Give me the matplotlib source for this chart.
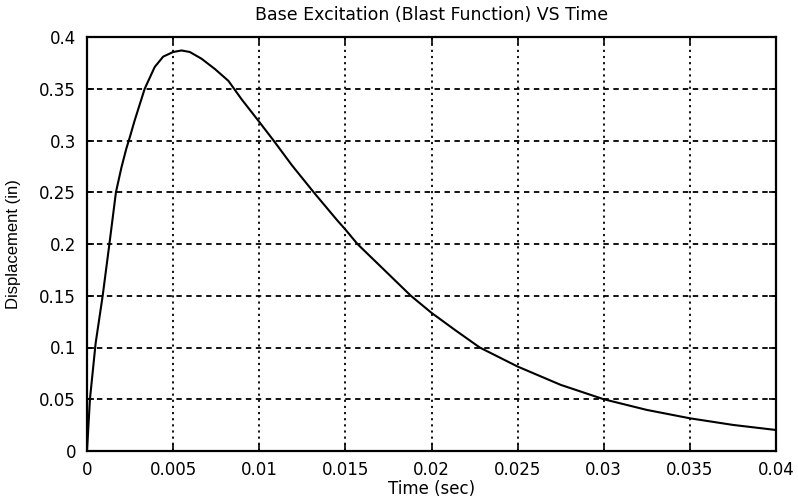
import matplotlib
matplotlib.use("Agg")
import matplotlib.pyplot as plt

# Data
time_s = [0, 0.00017, 0.0005, 0.00091, 0.0013, 0.00168, 0.002, 0.00228,
          0.0025, 0.00276, 0.00335, 0.00393, 0.00442, 0.005, 0.00549, 0.00597,
          0.00665, 0.00743, 0.00821, 0.00899, 0.01, 0.01083, 0.0119,
          0.01316, 0.01452, 0.015, 0.0157, 0.0175, 0.0188, 0.02, 0.0214,
          0.0228, 0.025, 0.0275, 0.03, 0.0325, 0.035, 0.0375, 0.04]
disp_in = [0, 0.05, 0.104, 0.15, 0.2, 0.25, 0.274, 0.292,
           0.304, 0.319, 0.35, 0.371, 0.381, 0.3855, 0.387, 0.3855,
           0.379, 0.369, 0.3576, 0.3395, 0.318, 0.3, 0.276,
           0.25, 0.223, 0.214, 0.2, 0.171, 0.15, 0.1335, 0.1165,
           0.1, 0.0816, 0.0639, 0.05, 0.0397, 0.0316, 0.0252, 0.0203]

xticks = [0, 0.005, 0.01, 0.015, 0.02, 0.025, 0.03, 0.035, 0.04]
xticklabels = ["0", "0.005", "0.01", "0.015", "0.02", "0.025", "0.03", "0.035", "0.04"]
yticks = [0, 0.05, 0.1, 0.15, 0.2, 0.25, 0.3, 0.35, 0.4]
yticklabels = ["0", "0.05", "0.1", "0.15", "0.2", "0.25", "0.3", "0.35", "0.4"]

title = "Base Excitation (Blast Function) VS Time"
xlabel = "Time (sec)"
ylabel = "Displacement (in)"

plt.rcParams['font.family'] = ['DejaVu Sans']

fig = plt.figure(figsize=(7.98, 5.0), dpi=100)
ax = fig.add_axes([87/798, 49/500, 689/798, 414/500])

ax.plot(time_s, disp_in, color="black", linewidth=1.5, solid_joinstyle="round")

ax.set_xlim(0, 0.04)
ax.set_ylim(0, 0.4)
ax.set_xticks(xticks)
ax.set_xticklabels(xticklabels)
ax.set_yticks(yticks)
ax.set_yticklabels(yticklabels)

ax.tick_params(axis="both", direction="in", length=5, width=1.2,
               top=True, right=True, labelsize=12, pad=8)
ax.tick_params(axis="x", pad=7)

for s in ax.spines.values():
    s.set_linewidth(1.6)

ax.xaxis.grid(True, linestyle=(0, (1.2, 2.2)), color="black", linewidth=1.3)
ax.yaxis.grid(True, linestyle=(0, (3, 2.5)), color="black", linewidth=1.3)

ax.set_title(title, fontsize=12.5, family="DejaVu Sans", pad=12)
ax.set_xlabel(xlabel, fontsize=12, family="DejaVu Sans", labelpad=1)
ax.set_ylabel(ylabel, fontsize=12, family=["Liberation Sans Narrow", "Liberation Sans", "DejaVu Sans"])
ax.yaxis.set_label_coords(-66/689, 0.5)

fig.savefig("out.png", dpi=100)
